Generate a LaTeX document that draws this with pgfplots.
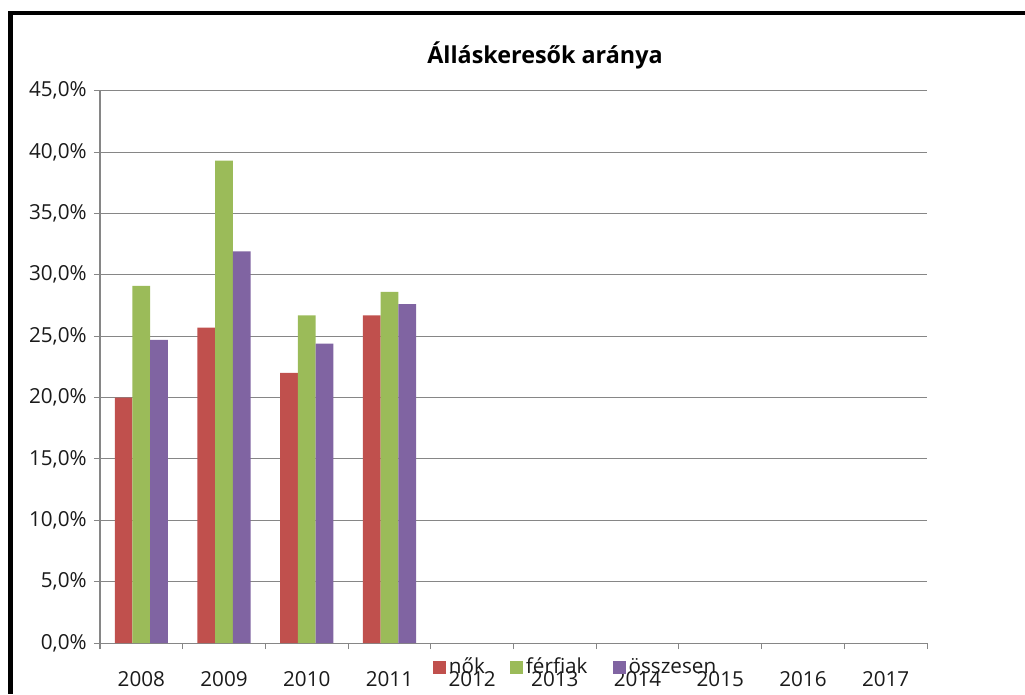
\documentclass[border=0pt]{standalone}
\usepackage{pgfplots}
\pgfplotsset{compat=1.18}
\usepackage{fontspec}
\setmainfont{Open Sans}
\definecolor{nred}{HTML}{C0504D}
\definecolor{fgreen}{HTML}{9BBB59}
\definecolor{opurp}{HTML}{8064A2}
\definecolor{gridgray}{HTML}{868686}
\definecolor{txt}{HTML}{1A1A1A}
\begin{document}
\begin{tikzpicture}
% page = 1025 x 694 px, 1 px = 0.75pt
\path[use as bounding box] (0,0) rectangle (768.75pt,-520.5pt);
% black frame (top and left only)
\fill[black] (6pt,-8.25pt) rectangle (768.75pt,-11.25pt);
\fill[black] (6pt,-8.25pt) rectangle (9.75pt,-520.5pt);
\node[font=\bfseries\fontsize{17.5}{20}\selectfont, anchor=base] at (408.75pt,-47.25pt) {Álláskeresők aránya};
\begin{axis}[
  at={(75pt,-482.25pt)}, anchor=south west,
  scale only axis, width=620.25pt, height=414.25pt,
  xmin=-0.5, xmax=9.5, ymin=0, ymax=45,
  ybar=0pt, bar width=13.3pt,
  axis lines*=left,
  axis line style={gridgray, line width=0.75pt},
  tick style={gridgray, line width=0.75pt},
  major tick length=4.5pt, tick align=outside,
  xtick={-0.5,0.5,...,9.5}, x tick label as interval,
  xticklabels={2008,2009,2010,2011,2012,2013,2014,2015,2016,2017},
  xticklabel style={yshift=-13pt},
  ytick={0,5,...,45},
  yticklabel={\pgfmathprintnumber[fixed,fixed zerofill,precision=1,use comma]{\tick}\%},
  yticklabel style={xshift=-2pt},
  /pgf/number format/assume math mode=true,
  ymajorgrids, grid style={gridgray, line width=0.75pt},
  tick label style={font=\fontsize{15.5}{18}\selectfont, text=txt},
  legend style={at={(0.4027,-0.0435)}, anchor=west, draw=none, fill=none,
    inner sep=0pt, font=\fontsize{15.5}{18}\selectfont, text=txt,
    legend columns=3,
    /tikz/every even column/.append style={column sep=17pt}},
]
\addplot[fill=nred, draw=none, legend image code/.code={\fill[nred] (0pt,-4.9pt) rectangle (9.75pt,4.9pt);}]
  coordinates {(0,20.0) (1,25.7) (2,22.0) (3,26.7)};
\addplot[fill=fgreen, draw=none, legend image code/.code={\fill[fgreen] (0pt,-4.9pt) rectangle (9.75pt,4.9pt);}]
  coordinates {(0,29.1) (1,39.3) (2,26.7) (3,28.6)};
\addplot[fill=opurp, draw=none, legend image code/.code={\fill[opurp] (0pt,-4.9pt) rectangle (9.75pt,4.9pt);}]
  coordinates {(0,24.7) (1,31.9) (2,24.4) (3,27.6)};
\legend{nők, férfiak, összesen}
\end{axis}
\end{tikzpicture}
\end{document}
